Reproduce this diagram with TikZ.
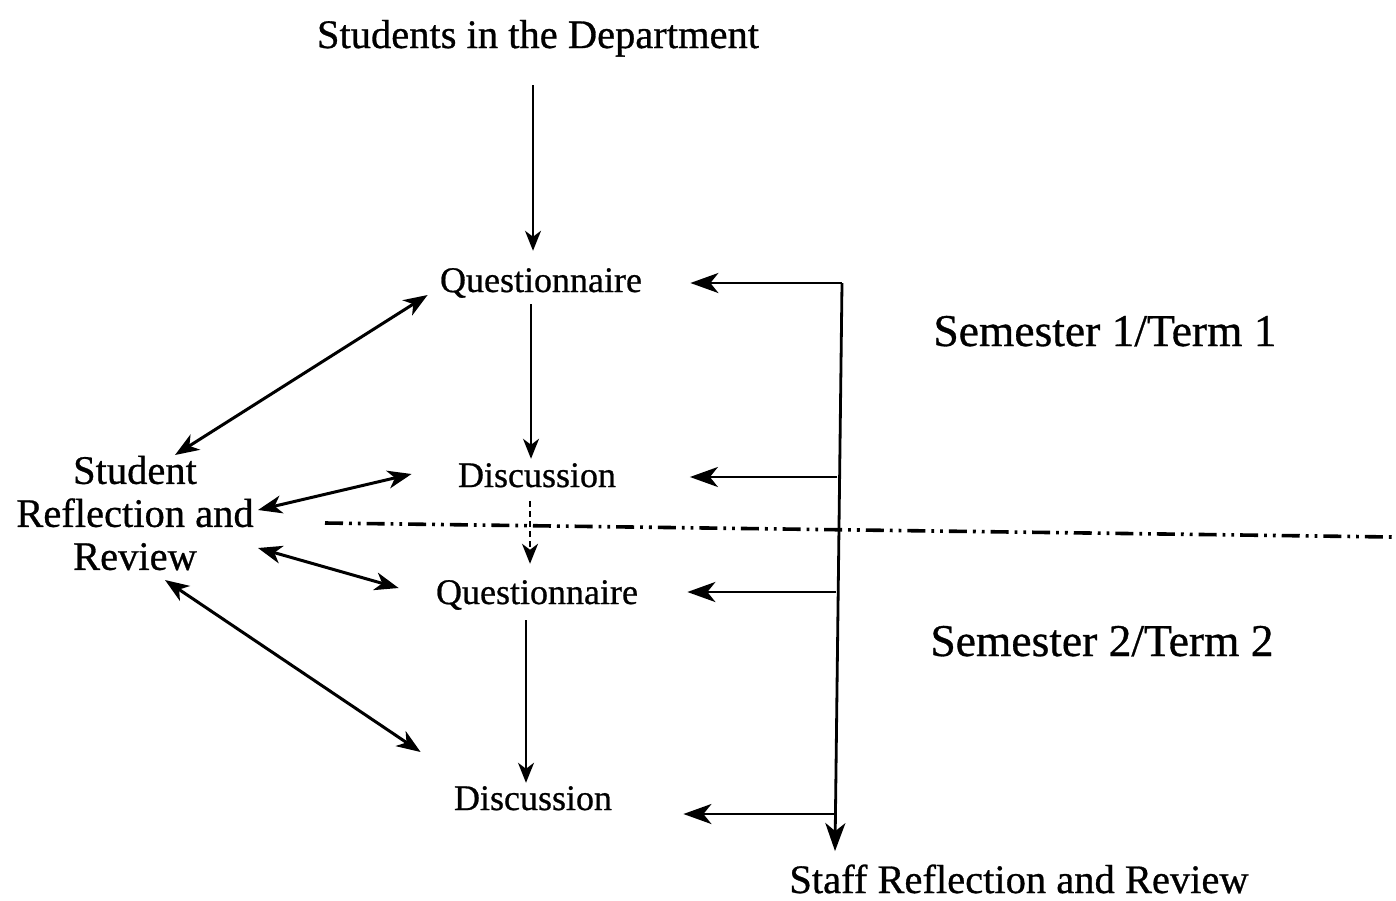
\documentclass[tikz,border=0pt]{standalone}
\usepackage{fontspec}
\setmainfont{Liberation Serif}
\newfontfamily\heavyserif[FakeBold=0.7]{Liberation Serif}
\usetikzlibrary{arrows.meta}
\begin{document}
\begin{tikzpicture}[x=0.5pt,y=-0.5pt,
  lbl/.style={inner sep=0pt, anchor=base, font=\heavyserif\fontsize{18}{20}\selectfont},
  big/.style={inner sep=0pt, anchor=base, font=\heavyserif\fontsize{20.25}{21.5}\selectfont},
  sem/.style={inner sep=0pt, anchor=base, font=\heavyserif\fontsize{22.75}{24}\selectfont},
  flow/.style={line width=1pt, -{Stealth[length=10pt,width=8pt,inset=3pt]}},
  staffarr/.style={line width=1.4pt, -{Stealth[length=14pt,width=10pt,inset=4pt]}},
  both/.style={line width=1.5pt, {Stealth[length=12pt,width=9pt,inset=3.5pt]}-{Stealth[length=12pt,width=9pt,inset=3.5pt]}},
  separator/.style={line width=1.8pt, dash pattern=on 9pt off 3pt on 1.4pt off 3pt on 1.4pt off 3pt},
]
\useasboundingbox (0,0) rectangle (1396,900);
\node[big] (students) at (538,48) {Students in the Department};
\node[lbl] (q1) at (541,292) {Questionnaire};
\node[lbl] (d1) at (537,487) {Discussion};
\node[lbl] (q2) at (537,604) {Questionnaire};
\node[lbl] (d2) at (533,810) {Discussion};
\node[big] (staff) at (1019,893) {Staff Reflection and Review};
\node[sem] (s1) at (1105,346) {Semester 1/Term 1};
\node[sem] (s2) at (1102,656) {Semester 2/Term 2};
\node[big, align=center, anchor=center] (srr) at (135,513) {Student\\Reflection and\\Review};

% central flow
\draw[flow] ([shift={(-5,28)}]students.south) -- ([shift={(-8,-17)}]q1.north);
\draw[flow] ([shift={(-10,6)}]q1.south) -- ([shift={(-6,-4)}]d1.north);
\draw[flow, dash pattern=on 3pt off 2pt] ([shift={(-7,13)}]d1.south) -- ([shift={(-7,-16)}]q2.north);
\draw[flow] ([shift={(-11,10)}]q2.south) -- ([shift={(-7,-3)}]d2.north);

% staff trunk
\coordinate (tt) at (842,283);
\draw[staffarr] (tt) -- ([shift={(48,-9)}]q1.base east);
\draw[staffarr] (tt) -- ([shift={(-184,-13)}]staff.north);
\draw[staffarr] ([shift={(221,-10)}]d1.base east) -- ([shift={(73.5,-10)}]d1.base east);
\draw[staffarr] ([shift={(198,-12)}]q2.base east) -- ([shift={(49,-12)}]q2.base east);
\draw[staffarr] ([shift={(223,4)}]d2.base east) -- ([shift={(71,4)}]d2.base east);

% student reflection
\draw[both] ([shift={(40,-58)}]srr.center) -- ([shift={(-12,3)}]q1.base west);
\draw[both] ([shift={(123,-3)}]srr.center) -- ([shift={(-46,-13)}]d1.base west);
\draw[both] ([shift={(123,35)}]srr.center) -- ([shift={(-37,-16)}]q2.base west);
\draw[both] ([shift={(30,67)}]srr.center) -- ([shift={(-33,-58)}]d2.base west);

% semester separator
\draw[separator] (325,523) -- (1392,537);
\end{tikzpicture}
\end{document}
